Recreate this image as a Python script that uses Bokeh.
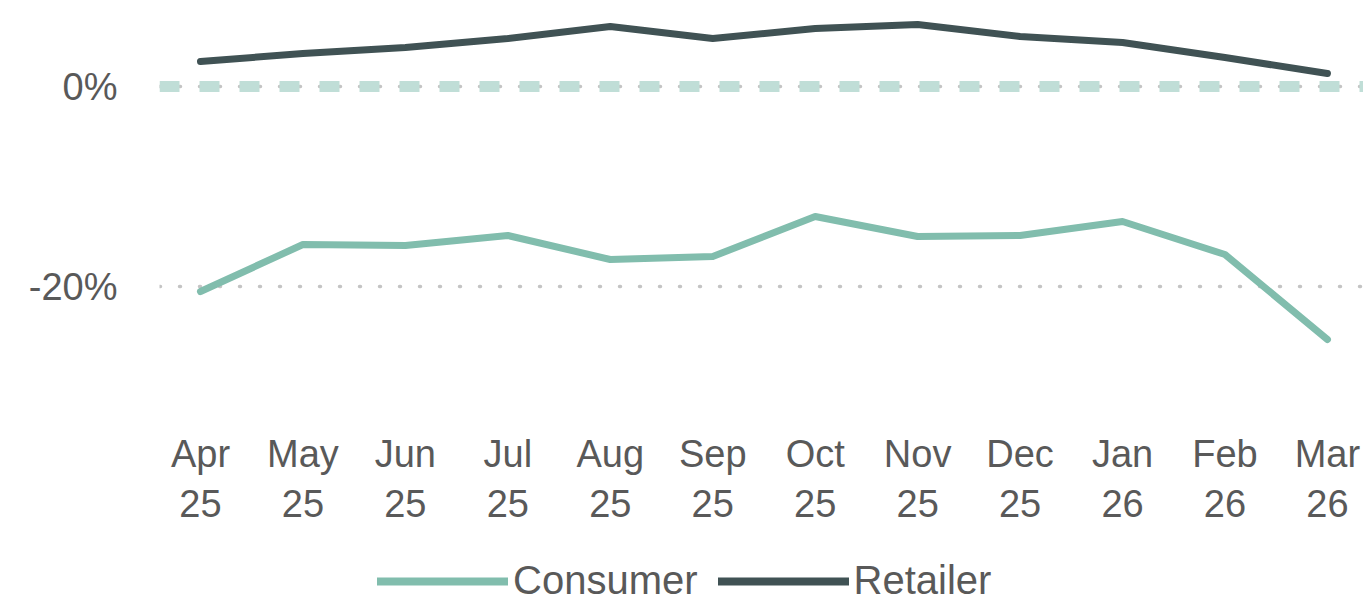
from bokeh.plotting import figure
from bokeh.layouts import column
from bokeh.models import (Range1d, FixedTicker, Span, Legend, LegendItem)
from bokeh.embed import file_html
from bokeh.resources import INLINE

months = ["Apr\n25", "May\n25", "Jun\n25", "Jul\n25", "Aug\n25", "Sep\n25",
          "Oct\n25", "Nov\n25", "Dec\n25", "Jan\n26", "Feb\n26", "Mar\n26"]
consumer = [-20.5, -15.8, -15.9, -14.9, -17.3, -17.0, -13.0, -15.0, -14.9, -13.5, -16.8, -25.3]
retailer = [2.5, 3.3, 3.9, 4.8, 6.0, 4.8, 5.8, 6.2, 5.0, 4.4, 2.9, 1.3]
series_names = ["Consumer", "Retailer"]
y_ticks = [0, -20]
y_tick_labels = ["0%", "-20%"]

FONT = "Liberation Sans"
TXT = "#595959"
C_CONS = "#81BDAD"
C_RET = "#405254"

xs = list(range(len(months)))

p = figure(frame_width=1204, frame_height=392, output_backend="svg", toolbar_location=None,
           x_range=Range1d(-0.4, 11.352), y_range=Range1d(-31.4, 7.8),
           min_border_left=159, min_border_right=0, min_border_top=8, min_border_bottom=0)
p.outline_line_color = None
p.background_fill_color = "white"
p.border_fill_color = "white"

# grid
p.xgrid.grid_line_color = None
p.ygrid.ticker = FixedTicker(ticks=y_ticks)
p.ygrid.grid_line_color = "#C4C4C4"
p.ygrid.grid_line_width = 3.5
p.ygrid.grid_line_cap = "round"
p.ygrid.grid_line_dash = "1 19"

zero = Span(location=0, dimension="width", line_color="#C0DED7", line_width=11,
            line_dash="20 20", level="underlay")
p.add_layout(zero)

# axes
p.yaxis.ticker = FixedTicker(ticks=y_ticks)
p.yaxis.major_label_overrides = {t: l for t, l in zip(y_ticks, y_tick_labels)}
p.xaxis.ticker = FixedTicker(ticks=xs)
p.xaxis.major_label_overrides = {i: m for i, m in enumerate(months)}
for ax in (p.xaxis[0], p.yaxis[0]):
    ax.axis_line_color = None
    ax.major_tick_line_color = None
    ax.minor_tick_line_color = None
    ax.major_tick_out = 0
    ax.major_tick_in = 0
    ax.major_label_text_font = FONT
    ax.major_label_text_font_size = "38px"
    ax.major_label_text_color = TXT
p.yaxis.major_label_standoff = 42
p.xaxis.major_label_standoff = 32

p.line(xs, consumer, line_color=C_CONS, line_width=7, line_cap="round", line_join="round")
p.line(xs, retailer, line_color=C_RET, line_width=7, line_cap="round", line_join="round")

# legend strip (same series, drawn out of view so that only the legend shows)
p2 = figure(width=1363, height=120, output_backend="svg", toolbar_location=None,
            x_range=Range1d(0, 1), y_range=Range1d(100, 101),
            min_border=0, x_axis_location=None, y_axis_location=None)
p2.outline_line_color = None
p2.grid.visible = False
l1 = p2.line(xs, consumer, line_color=C_CONS, line_width=8, line_cap="round")
l2 = p2.line(xs, retailer, line_color=C_RET, line_width=8, line_cap="round")
legend = Legend(items=[LegendItem(label=series_names[0], renderers=[l1]),
                       LegendItem(label=series_names[1], renderers=[l2])],
                orientation="horizontal", location=(218, 44),
                glyph_width=131, glyph_height=40, label_standoff=5, spacing=20,
                label_text_font=FONT, label_text_font_size="40px", label_text_color=TXT,
                border_line_color=None, background_fill_alpha=0,
                margin=0, padding=0)
p2.add_layout(legend)

open("out.html", "w").write(file_html(column(p, p2, spacing=0), INLINE))
